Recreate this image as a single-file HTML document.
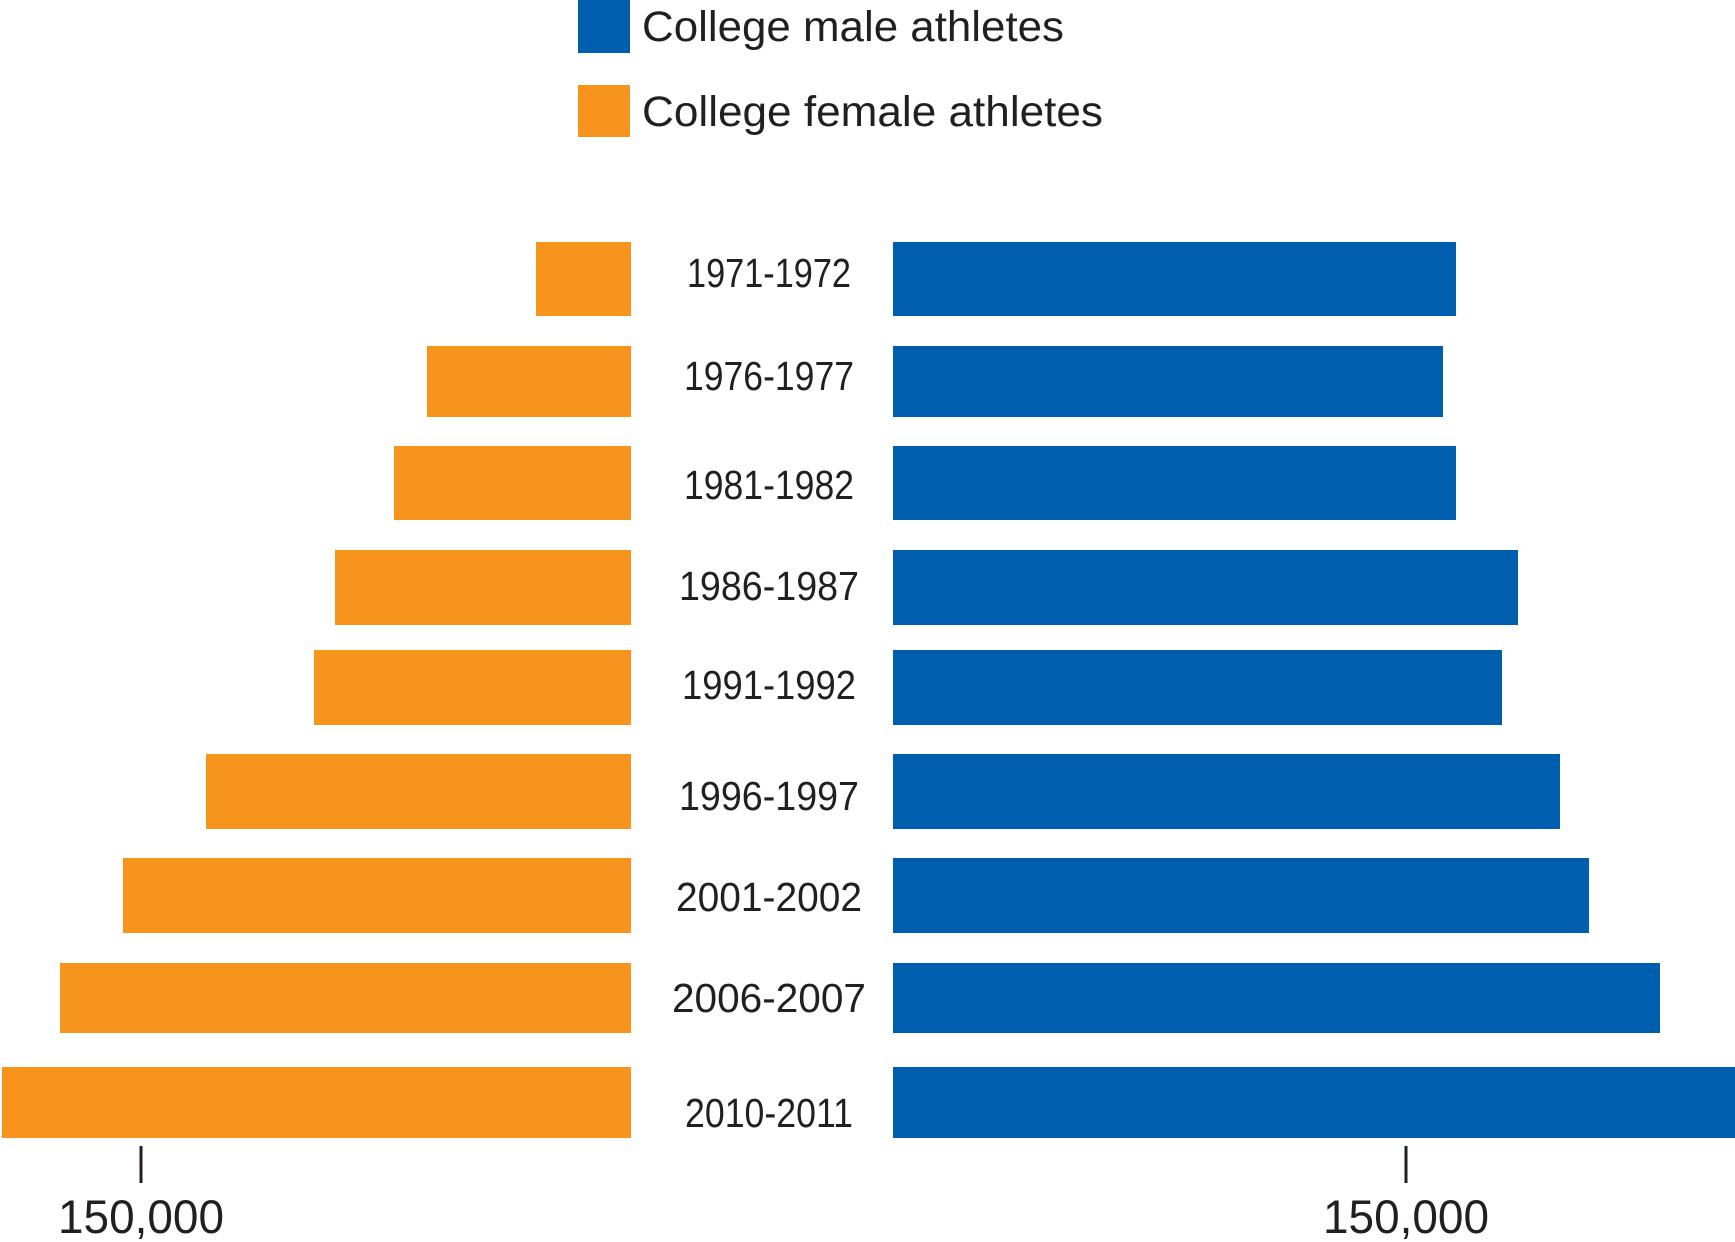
<!DOCTYPE html>
<html><head><meta charset="utf-8"><style>
html,body{margin:0;padding:0;background:#fff;}
svg{display:block;}
text{font-family:"Liberation Sans",sans-serif;fill:#231f20;}
</style></head><body>
<svg width="1735" height="1242" viewBox="0 0 1735 1242" xmlns="http://www.w3.org/2000/svg">
<rect x="578" y="0" width="52" height="53" fill="#005eae"/>
<rect x="578" y="85" width="52" height="52" fill="#f7941e"/>
<text x="642" y="41" font-size="43" textLength="422" lengthAdjust="spacingAndGlyphs">College male athletes</text>
<text x="642" y="126" font-size="43" textLength="461" lengthAdjust="spacingAndGlyphs">College female athletes</text>
<g fill="#f7941e">
<rect x="536" y="242" width="95" height="74"/>
<rect x="427" y="346" width="204" height="71"/>
<rect x="394" y="446" width="237" height="74"/>
<rect x="335" y="550" width="296" height="75"/>
<rect x="314" y="650" width="317" height="75"/>
<rect x="206" y="754" width="425" height="75"/>
<rect x="123" y="858" width="508" height="75"/>
<rect x="60" y="963" width="571" height="70"/>
<rect x="2" y="1067" width="629" height="71"/>
</g>
<g fill="#005eae">
<rect x="893" y="242" width="563" height="74"/>
<rect x="893" y="346" width="550" height="71"/>
<rect x="893" y="446" width="563" height="74"/>
<rect x="893" y="550" width="625" height="75"/>
<rect x="893" y="650" width="609" height="75"/>
<rect x="893" y="754" width="667" height="75"/>
<rect x="893" y="858" width="696" height="75"/>
<rect x="893" y="963" width="767" height="70"/>
<rect x="893" y="1067" width="842" height="71"/>
</g>
<g font-size="41" text-anchor="middle">
<text x="769" y="287" textLength="164" lengthAdjust="spacingAndGlyphs">1971-1972</text>
<text x="769" y="390" textLength="170" lengthAdjust="spacingAndGlyphs">1976-1977</text>
<text x="769" y="499" textLength="170" lengthAdjust="spacingAndGlyphs">1981-1982</text>
<text x="769" y="600" textLength="180" lengthAdjust="spacingAndGlyphs">1986-1987</text>
<text x="769" y="699" textLength="174" lengthAdjust="spacingAndGlyphs">1991-1992</text>
<text x="769" y="810" textLength="180" lengthAdjust="spacingAndGlyphs">1996-1997</text>
<text x="769" y="911" textLength="186" lengthAdjust="spacingAndGlyphs">2001-2002</text>
<text x="769" y="1012" textLength="194" lengthAdjust="spacingAndGlyphs">2006-2007</text>
<text x="769" y="1127" textLength="168" lengthAdjust="spacingAndGlyphs">2010-2011</text>
</g>
<rect x="139.5" y="1146" width="3" height="37" fill="#231f20"/>
<rect x="1404.5" y="1146" width="3" height="37" fill="#231f20"/>
<text x="141" y="1233" font-size="47" text-anchor="middle" textLength="166" lengthAdjust="spacingAndGlyphs">150,000</text>
<text x="1406" y="1233" font-size="47" text-anchor="middle" textLength="166" lengthAdjust="spacingAndGlyphs">150,000</text>
</svg>
</body></html>
